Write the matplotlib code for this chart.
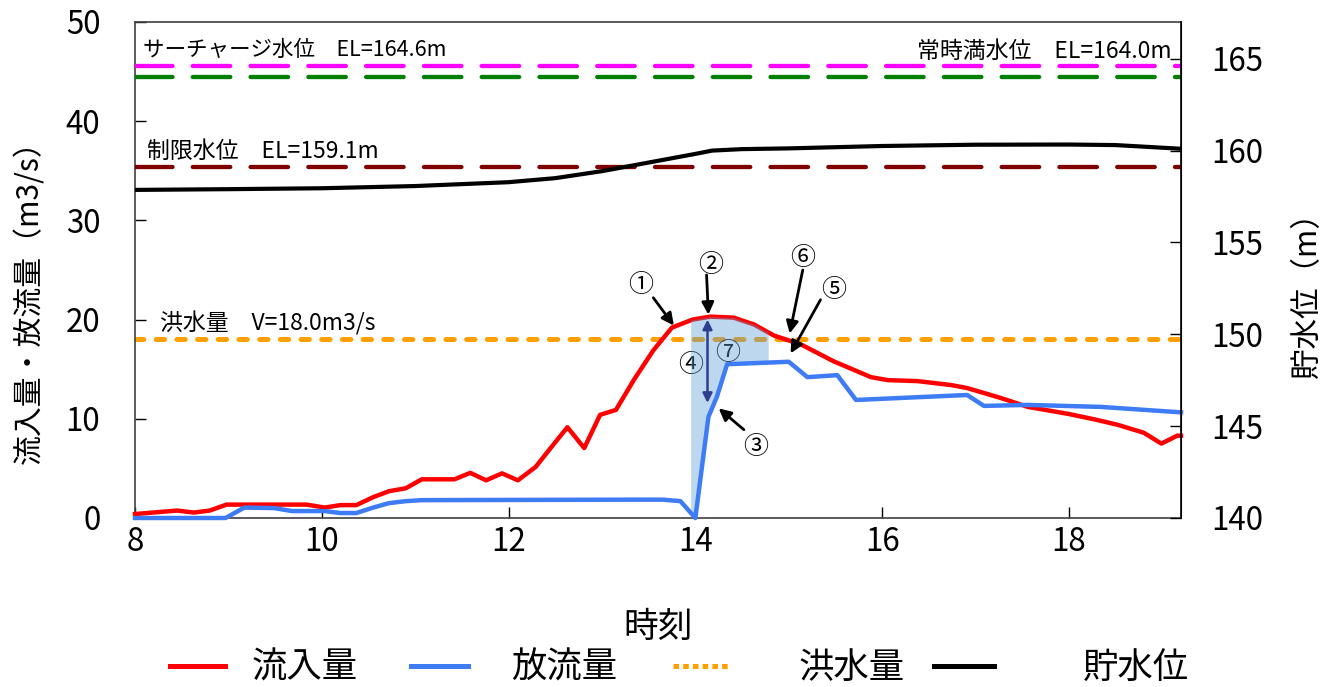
import matplotlib
matplotlib.use('Agg')
import matplotlib.pyplot as plt
import numpy as np
from matplotlib.lines import Line2D

plt.rcParams['font.family'] = ['Noto Sans CJK JP', 'DejaVu Sans']
plt.rcParams['lines.scale_dashes'] = False

# ---- data ----
t_in = [8.0, 8.45, 8.63, 8.8, 8.98, 9.84, 10.03, 10.2, 10.37, 10.55, 10.72, 10.9,
        11.07, 11.42, 11.59, 11.76, 11.93, 12.1, 12.29, 12.45, 12.63, 12.81, 12.98,
        13.15, 13.34, 13.55, 13.75, 13.97, 14.16, 14.41, 14.63, 14.84, 15.13, 15.48,
        15.88, 16.06, 16.38, 16.74, 16.91, 17.27, 17.56, 17.99, 18.27, 18.52, 18.8,
        18.99, 19.16, 19.2]
q_in = [0.4, 0.75, 0.55, 0.75, 1.35, 1.35, 1.05, 1.3, 1.3, 2.1, 2.7, 3.0,
        3.9, 3.9, 4.55, 3.8, 4.5, 3.8, 5.15, 7.05, 9.15, 7.05, 10.4,
        10.9, 13.9, 16.9, 19.2, 20.0, 20.3, 20.2, 19.5, 18.4, 17.5, 15.8,
        14.2, 13.9, 13.8, 13.4, 13.1, 12.1, 11.2, 10.5, 9.95, 9.4, 8.6,
        7.5, 8.3, 8.3]

t_out = [8.0, 8.97, 9.17, 9.49, 9.68, 10.03, 10.2, 10.37, 10.55, 10.72, 10.9, 11.07,
         13.34, 13.65, 13.84, 14.0, 14.14, 14.23, 14.34, 15.0, 15.2, 15.52, 15.72,
         16.91, 17.09, 17.56, 18.34, 19.2]
q_out = [0.0, 0.0, 1.05, 1.0, 0.7, 0.7, 0.5, 0.5, 1.05, 1.5, 1.7, 1.8,
         1.85, 1.85, 1.7, 0.0, 10.2, 12.2, 15.5, 15.75, 14.2, 14.4, 11.9,
         12.4, 11.3, 11.4, 11.2, 10.65]

t_lvl = [8.0, 9.0, 10.0, 11.0, 12.0, 12.5, 13.0, 13.5, 14.0, 14.18, 14.5, 15.0,
         16.0, 17.0, 18.0, 18.5, 19.2]
h_lvl = [157.86, 157.9, 157.95, 158.07, 158.28, 158.5, 158.88, 159.35, 159.82, 160.0,
         160.08, 160.12, 160.25, 160.32, 160.33, 160.3, 160.1]

flood_q = 18.0
surcharge_el = 164.6
normal_el = 164.0
limit_el = 159.1
shade_start, shade_end = 13.95, 14.78

x_ticks = [8, 10, 12, 14, 16, 18]
y_ticks = [0, 10, 20, 30, 40, 50]
y2_ticks = [140, 145, 150, 155, 160, 165]

label_surcharge = 'サーチャージ水位　EL=164.6m'
label_normal = '常時満水位　EL=164.0m'
label_limit = '制限水位　EL=159.1m'
label_flood = '洪水量　V=18.0m3/s'

# ---- figure ----
W, H = 1326, 687
fig = plt.figure(figsize=(W / 100, H / 100), dpi=100)
ax = fig.add_axes([135 / W, 1 - 518 / H, (1181 - 135) / W, (518 - 22) / H])
ax2 = ax.twinx()

RED = '#ff0000'
BLUE = '#3d7cf5'
ORANGE = '#ffa000'

ax.axhline(flood_q, color=ORANGE, lw=3.6, dashes=(6, 8.9), dash_capstyle='round', zorder=2)
ax.plot(t_in, q_in, color=RED, lw=3.2, solid_joinstyle='round', zorder=3, clip_on=False)

xs = np.unique(np.concatenate([[shade_start, shade_end],
                               [t for t in t_in + t_out if shade_start < t < shade_end]]))
upper = np.interp(xs, t_in, q_in)
lower = np.interp(xs, t_out, q_out)
ax.fill_between(xs, lower, upper, color='#5b9bd5', alpha=0.4, lw=0, zorder=3.5)

ax.plot(t_out, q_out, color=BLUE, lw=3.2, solid_joinstyle='round', zorder=4, clip_on=False)

ax2.axhline(surcharge_el, color='#ff00ff', lw=3.1, dashes=(27, 14.6), dash_capstyle='round')
ax2.axhline(normal_el, color='#008000', lw=3.1, dashes=(27, 14.6), dash_capstyle='round')
ax2.axhline(limit_el, color='#800000', lw=3.1, dashes=(27, 14.6), dash_capstyle='round')
ax2.plot(t_lvl, h_lvl, color='black', lw=3.0, solid_joinstyle='round')

ax.set_xlim(8, 19.2)
ax.set_ylim(0, 50)
ax2.set_ylim(140, 167)
ax.set_xticks(x_ticks)
ax.set_yticks(y_ticks)
ax2.set_yticks(y2_ticks)

ax.tick_params(axis='x', direction='in', length=8, width=1, labelsize=22.5, pad=6)
ax.tick_params(axis='y', direction='in', length=8, width=1, labelsize=22.5, pad=25)
ax2.tick_params(axis='y', direction='in', length=8, width=1, labelsize=22.5, pad=22)

for s in ['top', 'bottom', 'left']:
    ax.spines[s].set_color('#404040')
    ax.spines[s].set_linewidth(1.2)
ax2.spines['right'].set_color('black')
ax2.spines['right'].set_linewidth(1.2)
for s in ['top', 'bottom', 'left']:
    ax2.spines[s].set_visible(False)

# line labels
ax.text(8.09, 47.2, label_surcharge, fontsize=15.5, ha='left', va='center')
ax.text(19.1, 47.0, label_normal, fontsize=16.5, ha='right', va='center')
ax.text(8.13, 36.9, label_limit, fontsize=16.5, ha='left', va='center')
ax.text(8.27, 19.65, label_flood, fontsize=16.5, ha='left', va='center')

# annotations
circ_fs = 18
ax.text(13.41, 23.5, '①', fontsize=circ_fs, ha='center', va='center')
ax.text(14.16, 25.5, '②', fontsize=circ_fs, ha='center', va='center')
ax.text(14.65, 7.2, '③', fontsize=circ_fs, ha='center', va='center')
ax.text(13.95, 15.4, '④', fontsize=circ_fs, ha='center', va='center', zorder=3.2)
ax.text(15.48, 23.0, '⑤', fontsize=circ_fs, ha='center', va='center')
ax.text(15.15, 26.2, '⑥', fontsize=circ_fs, ha='center', va='center')
ax.text(14.35, 16.6, '⑦', fontsize=circ_fs, ha='center', va='center', zorder=3.2)

arrow = dict(arrowstyle='-|>', color='black', lw=2, mutation_scale=18, shrinkA=0, shrinkB=0)
ax.annotate('', xy=(13.77, 19.4), xytext=(13.55, 22.2), arrowprops=arrow, zorder=6)
ax.annotate('', xy=(14.14, 20.5), xytext=(14.12, 24.5), arrowprops=arrow, zorder=6)
ax.annotate('', xy=(14.25, 11.05), xytext=(14.52, 8.9), arrowprops=arrow, zorder=6)
ax.annotate('', xy=(15.02, 16.6), xytext=(15.34, 22.0), arrowprops=arrow, zorder=6)
ax.annotate('', xy=(15.01, 18.6), xytext=(15.15, 25.0), arrowprops=arrow, zorder=6)
ax.annotate('', xy=(14.13, 11.6), xytext=(14.13, 20.0),
            arrowprops=dict(arrowstyle='<|-|>', color='#2f3d8f', lw=1.8,
                            mutation_scale=14, shrinkA=0, shrinkB=0), zorder=6)

# axis labels
ax.set_xlabel('時刻', fontsize=25, va='center')
ax.xaxis.set_label_coords(0.5, (518 - 627) / 496)
ax.set_ylabel('流入量・放流量（m3/s）', fontsize=21.5, ha='center', va='center')
ax.yaxis.set_label_coords((30 - 135) / 1046, (518 - 295) / 496)
ax2.set_ylabel('貯水位（m）', fontsize=22, rotation=90, ha='center', va='center')
ax2.yaxis.set_label_coords((1308 - 135) / 1046, (518 - 288) / 496)

# legend
entries = [
    (Line2D([], [], color=RED, lw=3.6), '流入量', 169.6, 55, 26.7),
    (Line2D([], [], color=BLUE, lw=3.6), '放流量', 411, 57, 43),
    (Line2D([], [], color=ORANGE, lw=3.6, dashes=(4, 3), dash_capstyle='butt'), '洪水量', 672.6, 58, 68),
    (Line2D([], [], color='black', lw=3.6), '貯水位', 933.6, 60, 89),
]
leg_fs = 25.5
em = leg_fs * 100 / 72
for h, lab, x0, hl, tp in entries:
    fig.legend(handles=[h], labels=[lab], loc='center left',
               bbox_to_anchor=(x0 / W, 1 - 668 / H), frameon=False, fontsize=leg_fs,
               handlelength=hl / em, handletextpad=tp / em, borderpad=0, borderaxespad=0)

fig.savefig('out.png', dpi=100)
